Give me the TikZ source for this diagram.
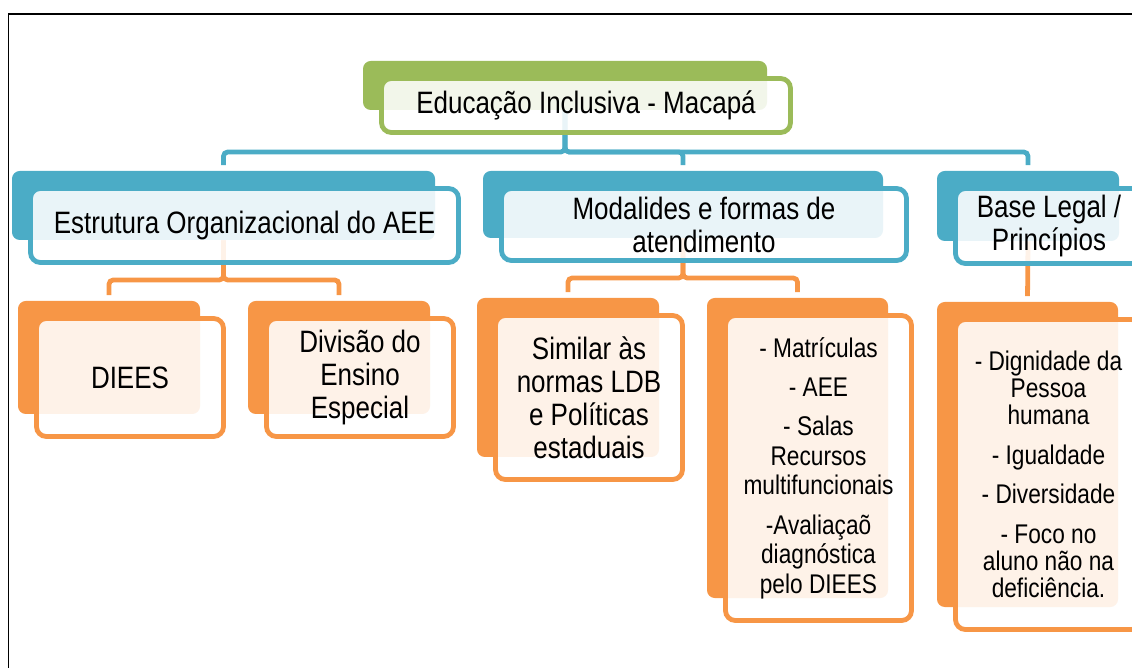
\documentclass[tikz,border=0pt]{standalone}
\usepackage{fontspec}
\setmainfont{Liberation Sans}[FakeStretch=0.84]
\usetikzlibrary{backgrounds}
\definecolor{leaf}{HTML}{9BBB59}
\definecolor{aqua}{HTML}{4BACC6}
\definecolor{tang}{HTML}{F79646}

\begin{document}
\begin{tikzpicture}[x=0.025cm, y=-0.025cm,
    back/.style={fill=#1, rounded corners=5.5pt, inner sep=0pt},
    front/.style={draw=#1, line width=3.4pt, fill=white, fill opacity=0.88,
      text opacity=1, rounded corners=7pt, inner sep=0pt, align=center},
    bigtext/.style={font=\fontsize{22pt}{23.5pt}\selectfont},
    listtext/.style={font=\fontsize{19.2pt}{21pt}\selectfont},
    principtext/.style={font=\fontsize{19.2pt}{19.2pt}\selectfont},
    tie/.style={draw=#1, line width=3.4pt, rounded corners=3pt, shorten >=4pt}]
  \useasboundingbox (0,0) rectangle (1132,668);
  \clip (0,0) rectangle (1132,668);
  \draw[line width=1.4pt] (8.5,668) -- (8.5,14) -- (1132,14);
  % boxes: back shape, then front shape with the text
  \foreach \id/\col/\cx/\cy/\w/\h/\fnt/\txt in {
      root/leaf/565/85.5/404/49/bigtext/{Educação Inclusiva - Macapá},
      est/aqua/223.5/205.5/423/69/bigtext/{Estrutura Organizacional do AEE},
      mod/aqua/683/204.5/400/67/bigtext/{Modalides e formas de\\atendimento},
      base/aqua/1028/206/182/70/bigtext/{Base Legal /\\Princípios},
      diees/tang/109/357.5/182/113/bigtext/{DIEES},
      div/tang/339/357.5/182/113/bigtext/{Divisão do\\Ensino\\Especial},
      sim/tang/568/377.5/182/159/bigtext/{Similar às\\normas LDB\\e Políticas\\estaduais},
      mat/tang/797.5/448/181/300/listtext/{- Matrículas\\[7pt]- AEE\\[7pt]- Salas\\Recursos\\multifuncionais\\[7pt]-Avaliaçaõ\\diagnóstica\\pelo DIEES},
      legal/tang/1027.5/454.5/181/305/principtext/{- Dignidade da\\Pessoa\\humana\\[9pt]- Igualdade\\[9pt]- Diversidade\\[9pt]- Foco no\\aluno não na\\deficiência.}} {
    \node[back=\col, minimum width=\w*0.025cm, minimum height=\h*0.025cm] (\id) at (\cx, \cy) {};
    \node[front=\col, \fnt, minimum width={(\w+5)*0.025cm}, minimum height={(\h+5)*0.025cm}]
      (\id-f) at (\cx+21, \cy+20) {\txt};
  }
  % connectors behind the boxes
  \begin{scope}[on background layer]
    \coordinate (root-bar) at (0,152);
    \coordinate (est-bar) at (0,280);
    \coordinate (mod-bar) at (0,278);
    \foreach \kid in {est, mod, base}
      \draw[tie=aqua] (root.south) -- (root.south |- root-bar) -| (\kid.north);
    \foreach \kid in {diees, div}
      \draw[tie=tang] (est.south) -- (est.south |- est-bar) -| (\kid.north);
    \foreach \kid in {sim, mat}
      \draw[tie=tang] (mod.south) -- (mod.south |- mod-bar) -| (\kid.north);
    \draw[tie=tang] (base.south) -- (legal.north);
  \end{scope}
\end{tikzpicture}
\end{document}
